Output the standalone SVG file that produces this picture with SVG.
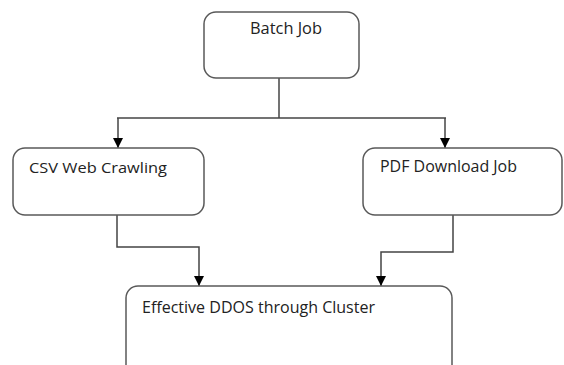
<svg xmlns="http://www.w3.org/2000/svg" width="564" height="365" viewBox="0 0 564 365">
<style>
.box{fill:#fff;stroke:#595959;stroke-width:1.5}
.lbl{font-family:"Open Sans","Liberation Sans",sans-serif;font-size:16px;fill:#222}
.conn{fill:none;stroke:#444;stroke-width:1.5}
</style>
<defs>
<marker id="ah" viewBox="0 0 10 10" refX="10" refY="5" markerWidth="10" markerHeight="10" markerUnits="userSpaceOnUse" orient="auto">
<path d="M0,0 L10,5 L0,10 Z" fill="#000"/>
</marker>
</defs>
<rect width="564" height="365" fill="#fff"/>
<g id="connectors">
<path class="conn" d="M279,78 V118"/>
<path class="conn" d="M117,118 H446"/>
<path class="conn" d="M118,118 V148" marker-end="url(#ah)"/>
<path class="conn" d="M445,118 V148" marker-end="url(#ah)"/>
<path class="conn" d="M117,215 V247 H199 V286" marker-end="url(#ah)"/>
<path class="conn" d="M453,215 V252 H381 V286" marker-end="url(#ah)"/>
</g>
<g id="batch">
<rect class="box" x="204" y="12" width="155" height="66" rx="12"/>
<text class="lbl" x="250" y="34" textLength="72" lengthAdjust="spacingAndGlyphs">Batch Job</text>
</g>
<g id="csv">
<rect class="box" x="13" y="148" width="191" height="67" rx="12"/>
<text class="lbl" x="29" y="173" style="font-size:14.5px" textLength="138" lengthAdjust="spacingAndGlyphs">CSV Web Crawling</text>
</g>
<g id="pdf">
<rect class="box" x="363" y="148" width="199" height="67" rx="12"/>
<text class="lbl" x="380" y="172" textLength="137" lengthAdjust="spacingAndGlyphs">PDF Download Job</text>
</g>
<g id="ddos">
<rect class="box" x="126" y="286" width="326" height="95" rx="12"/>
<text class="lbl" x="142" y="313" textLength="233" lengthAdjust="spacingAndGlyphs">Effective DDOS through Cluster</text>
</g>
</svg>
